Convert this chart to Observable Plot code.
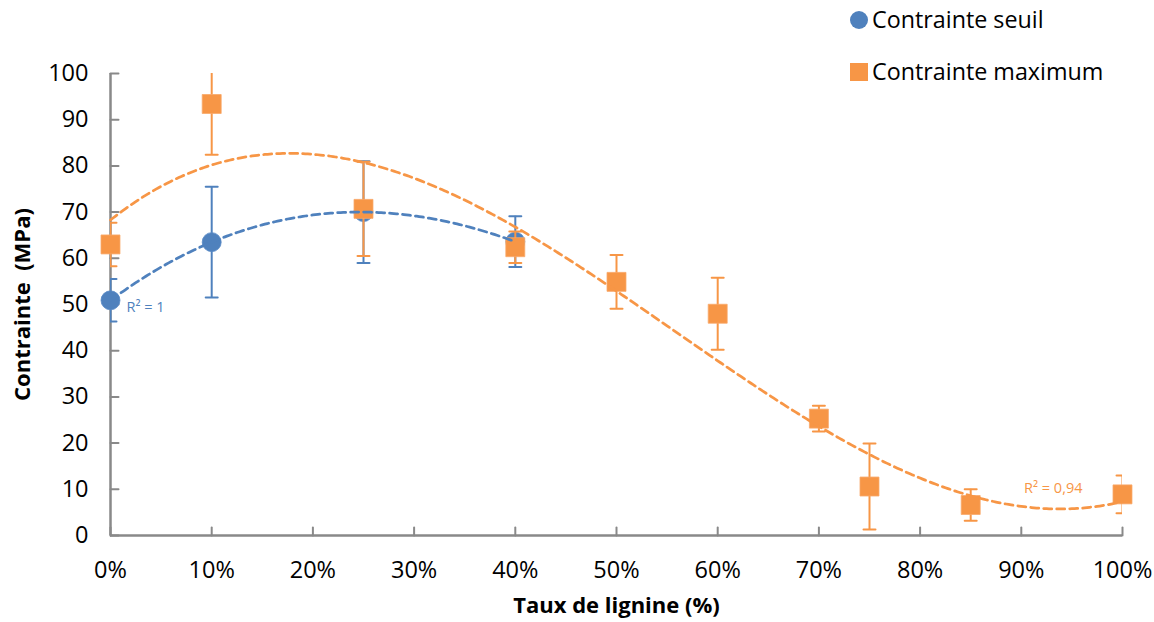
<!DOCTYPE html>
<html>
<head>
<meta charset="utf-8">
<script src="https://cdn.jsdelivr.net/npm/d3@7"></script>
<script src="https://cdn.jsdelivr.net/npm/@observablehq/plot@0.6"></script>
<style>
  html, body { margin: 0; padding: 0; background: #fff; }
  #wrap { position: relative; width: 1154px; height: 622px; font-family: "Open Sans", sans-serif; }
  #legend { position: absolute; left: 850px; top: 0; font-size: 23.3px; color: #000; }
  .item { position: absolute; left: 0; height: 30px; display: flex; align-items: center; white-space: nowrap; line-height: 1; }
  .sw { width: 18px; height: 18px; margin-right: 4px; flex: none; }
</style>
</head>
<body>
<div id="wrap">
  <div id="chart"></div>
  <div id="legend"></div>
</div>
<script>
// ---- data ----
const seriesNames = ["Contrainte seuil", "Contrainte maximum"];
const seuilX = [0, 10, 25, 40];
const seuilY = [50.9, 63.5, 70.0, 63.6];
const seuilErr = [4.6, 12.0, 11.0, 5.5];
const maxX = [0, 10, 25, 40, 50, 60, 70, 75, 85, 100];
const maxY = [63.0, 93.4, 70.7, 62.4, 54.9, 48.0, 25.3, 10.6, 6.6, 8.9];
const maxErr = [4.7, 11.0, 10.2, 3.4, 5.8, 7.8, 2.8, 9.3, 3.4, 4.1];
const r2Labels = ["R² = 1", "R² = 0,94"];
const xTicks = [0, 10, 20, 30, 40, 50, 60, 70, 80, 90, 100];
const yTicks = [0, 10, 20, 30, 40, 50, 60, 70, 80, 90, 100];

const BLUE = "#4F81BD", ORANGE = "#F79646", GRAY = "#898989";
const FONT = "'Open Sans', sans-serif";

const seuil = seuilX.map((x, i) => ({x, y: seuilY[i], lo: seuilY[i] - seuilErr[i], hi: seuilY[i] + seuilErr[i]}));
const maxi = maxX.map((x, i) => ({x, y: maxY[i], lo: maxY[i] - maxErr[i], hi: maxY[i] + maxErr[i]}));

// least squares polynomial trend (like Excel's polynomial trendline)
function polyfit(xs, ys, deg) {
  const n = deg + 1, s = 100;
  const A = Array.from({length: n}, () => new Array(n).fill(0));
  const b = new Array(n).fill(0);
  xs.forEach((x0, k) => {
    const x = x0 / s;
    for (let i = 0; i < n; i++) {
      b[i] += ys[k] * Math.pow(x, i);
      for (let j = 0; j < n; j++) A[i][j] += Math.pow(x, i + j);
    }
  });
  for (let c = 0; c < n; c++) {
    let p = c;
    for (let r = c + 1; r < n; r++) if (Math.abs(A[r][c]) > Math.abs(A[p][c])) p = r;
    [A[c], A[p]] = [A[p], A[c]]; [b[c], b[p]] = [b[p], b[c]];
    for (let r = c + 1; r < n; r++) {
      const f = A[r][c] / A[c][c];
      for (let j = c; j < n; j++) A[r][j] -= f * A[c][j];
      b[r] -= f * b[c];
    }
  }
  const coef = new Array(n).fill(0);
  for (let i = n - 1; i >= 0; i--) {
    let v = b[i];
    for (let j = i + 1; j < n; j++) v -= A[i][j] * coef[j];
    coef[i] = v / A[i][i];
  }
  return x0 => coef.reduce((acc, c, i) => acc + c * Math.pow(x0 / s, i), 0);
}
const fSeuil = polyfit(seuilX, seuilY, 3);
const fMax = polyfit(maxX, maxY, 3);
const seuilTrend = d3.range(d3.min(seuilX), d3.max(seuilX) + 0.001, 0.25).map(x => ({x, y: fSeuil(x)}));
const maxTrend = d3.range(d3.min(maxX), d3.max(maxX) + 0.001, 0.25).map(x => ({x, y: fMax(x)}));
const maxMin = d3.least(maxTrend.filter(d => d.x > 50), d => d.y);

const lineShape = {draw(ctx, l) { ctx.moveTo(0, 0); ctx.lineTo(0, -l); }};
const capShape = {draw(ctx, l) { ctx.moveTo(-l / 2, 0); ctx.lineTo(l / 2, 0); }};

function errorMarks(data, color) {
  return [
    Plot.ruleX(data, {x: "x", y1: "lo", y2: "hi", stroke: color, strokeWidth: 2, clip: true}),
    Plot.vector(data, {x: "x", y: "hi", length: 12, anchor: "start", shape: capShape, stroke: color, strokeWidth: 2, clip: true}),
    Plot.vector(data, {x: "x", y: "lo", length: 12, anchor: "start", shape: capShape, stroke: color, strokeWidth: 2, clip: true})
  ];
}

const chart = Plot.plot({
  width: 1154,
  height: 622,
  marginLeft: 110,
  marginRight: 32,
  marginTop: 73,
  marginBottom: 87,
  style: {fontFamily: FONT, fontSize: "22px", color: "#000", background: "#fff", overflow: "visible"},
  x: {domain: [0, 100]},
  y: {domain: [0, 100]},
  marks: [
    Plot.axisX({ticks: xTicks, tickSize: 0, tickPadding: 26, tickFormat: d => d + "%", label: null, fontSize: 23.5, fontFamily: FONT}),
    Plot.axisY({ticks: yTicks, tickSize: 0, tickPadding: 22, label: null, fontSize: 23.5, fontFamily: FONT}),
    Plot.vector(xTicks, {x: d => d, frameAnchor: "bottom", length: 8, anchor: "start", shape: lineShape, stroke: GRAY, strokeWidth: 2}),
    Plot.vector(yTicks, {y: d => d, frameAnchor: "left", rotate: 90, length: 8, anchor: "start", shape: lineShape, stroke: GRAY, strokeWidth: 2}),
    Plot.ruleX([0], {stroke: GRAY, strokeWidth: 2.5}),
    Plot.ruleY([0], {stroke: GRAY, strokeWidth: 2.5}),
    ...errorMarks(seuil, BLUE),
    Plot.dot(seuil, {x: "x", y: "y", r: 9.5, fill: BLUE, stroke: "#5b8cc8", strokeWidth: 0.8}),
    ...errorMarks(maxi, ORANGE),
    Plot.dot(maxi, {x: "x", y: "y", symbol: "square", r: 10.7, fill: ORANGE, stroke: "#f9a86a", strokeWidth: 0.8}),
    Plot.line(seuilTrend, {x: "x", y: "y", stroke: BLUE, strokeWidth: 2.75, strokeDasharray: "8,5"}),
    Plot.line(maxTrend, {x: "x", y: "y", stroke: ORANGE, strokeWidth: 2.75, strokeDasharray: "8,5"}),
    Plot.text([r2Labels[0]], {x: () => seuilTrend[0].x, y: () => seuilTrend[0].y, dx: 16, dy: 7, textAnchor: "start", fill: BLUE, fontSize: 14.5, fontFamily: FONT}),
    Plot.text([r2Labels[1]], {x: () => maxMin.x, y: () => maxMin.y, dx: -6, dy: -21, textAnchor: "middle", fill: ORANGE, fontSize: 14.5, fontFamily: FONT}),
    Plot.text(["Taux de lignine (%)"], {frameAnchor: "bottom", textAnchor: "middle", dy: 77, fontWeight: "bold", fontSize: 22, fontFamily: FONT, fill: "#000"}),
    Plot.text(["Contrainte  (MPa)"], {frameAnchor: "left", textAnchor: "middle", dx: -88, rotate: -90, fontWeight: "bold", fontSize: 22, fontFamily: FONT, fill: "#000"})
  ]
});
document.getElementById("chart").appendChild(chart);

// legend
const legend = document.getElementById("legend");
const legendTops = [5, 57];
seriesNames.forEach((name, i) => {
  const it = document.createElement("div");
  it.className = "item";
  it.style.top = legendTops[i] + "px";
  const sw = document.createElement("span");
  sw.className = "sw";
  sw.style.background = i === 0 ? BLUE : ORANGE;
  if (i === 0) sw.style.borderRadius = "50%";
  const tx = document.createElement("span");
  tx.textContent = name;
  it.appendChild(sw); it.appendChild(tx);
  legend.appendChild(it);
});
</script>
</body>
</html>
